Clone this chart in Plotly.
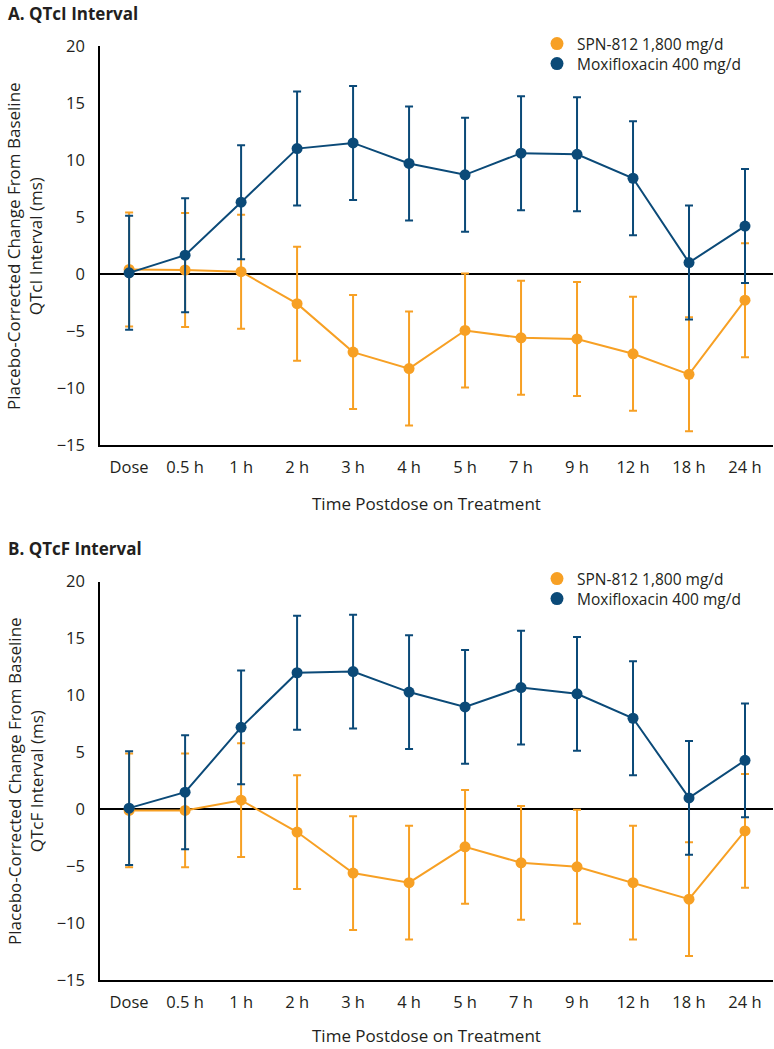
import plotly.graph_objects as go

categories = ["Dose", "0.5 h", "1 h", "2 h", "3 h", "4 h", "5 h", "7 h", "9 h", "12 h", "18 h", "24 h"]

# Panel A: QTcI
spn_qtci = [0.4, 0.35, 0.2, -2.6, -6.85, -8.3, -4.95, -5.6, -5.7, -7.0, -8.8, -2.3]
spn_qtci_err = [5, 5, 5, 5, 5, 5, 5, 5, 5, 5, 5, 5]
moxi_qtci = [0.1, 1.65, 6.3, 11.0, 11.5, 9.7, 8.7, 10.6, 10.5, 8.4, 1.0, 4.2]
moxi_qtci_err = [5, 5, 5, 5, 5, 5, 5, 5, 5, 5, 5, 5]

# Panel B: QTcF
spn_qtcf = [-0.1, -0.1, 0.8, -2.0, -5.6, -6.45, -3.3, -4.7, -5.05, -6.45, -7.9, -1.9]
spn_qtcf_err = [5, 5, 5, 5, 5, 5, 5, 5, 5, 5, 5, 5]
moxi_qtcf = [0.1, 1.5, 7.2, 12.0, 12.1, 10.3, 9.0, 10.7, 10.15, 8.0, 1.0, 4.3]
moxi_qtcf_err = [5, 5, 5, 5, 5, 5, 5, 5, 5, 5, 5, 5]

series_names = ["SPN-812 1,800 mg/d", "Moxifloxacin 400 mg/d"]
ORANGE = "#F7A024"
BLUE = "#0B4A78"
TEXT = "#231F20"
FONT = "Open Sans"

fig = go.Figure()

def add_series(y, err, color, xa, ya):
    fig.add_trace(go.Scatter(
        x=categories, y=y, mode="lines+markers",
        line=dict(color=color, width=2),
        marker=dict(color=color, size=11),
        error_y=dict(type="data", array=err, visible=True, color=color, thickness=2, width=4),
        xaxis=xa, yaxis=ya, showlegend=False,
    ))

add_series(spn_qtci, spn_qtci_err, ORANGE, "x", "y")
add_series(moxi_qtci, moxi_qtci_err, BLUE, "x", "y")
add_series(spn_qtcf, spn_qtcf_err, ORANGE, "x2", "y2")
add_series(moxi_qtcf, moxi_qtcf_err, BLUE, "x2", "y2")

# legend-only entries (markers only), one legend box per row for precise spacing
legend_ids = ["legend", "legend2", "legend3", "legend4"]
legend_axes = [("x", "y"), ("x", "y"), ("x2", "y2"), ("x2", "y2")]
legend_names = series_names + series_names
legend_colors = [ORANGE, BLUE, ORANGE, BLUE]
for lid, (xa, ya), name, color in zip(legend_ids, legend_axes, legend_names, legend_colors):
    fig.add_trace(go.Scatter(x=[None], y=[None], mode="markers", name=name,
                             marker=dict(color=color, size=13), legend=lid,
                             xaxis=xa, yaxis=ya))

W, H = 774, 1049
left_px, right_px = 100, 773
top_px, bot_px = 46, 980
plot_w = right_px - left_px
plot_h = bot_px - top_px
def py(p):
    return (bot_px - p) / plot_h
def px(p):
    return (p - left_px) / plot_w

xcommon = dict(type="category", range=[-0.52, 11.5], showline=True, linecolor="black", linewidth=1.5,
               ticks="", showgrid=False, zeroline=False, tickfont=dict(size=16.5, color=TEXT, family=FONT),
               ticklabelstandoff=6)
ycommon = dict(range=[-15, 20], dtick=5, showline=True, linecolor="black", linewidth=1.5, ticks="",
               showgrid=False, zeroline=True, zerolinecolor="black", zerolinewidth=2,
               tickfont=dict(size=16.5, color=TEXT, family=FONT), ticklabelstandoff=10)

legcommon = dict(x=px(537), xanchor="left", yanchor="top", itemwidth=30,
                 font=dict(size=15.5, family=FONT, color=TEXT), bgcolor="rgba(0,0,0,0)")

fig.update_layout(
    width=W, height=H,
    margin=dict(l=left_px, r=W - right_px, t=top_px, b=H - bot_px),
    paper_bgcolor="white", plot_bgcolor="white",
    font=dict(family=FONT, size=16, color=TEXT),
    xaxis=dict(**xcommon, anchor="y", domain=[0, 1]),
    yaxis=dict(**ycommon, anchor="x", domain=[py(445), 1]),
    xaxis2=dict(**xcommon, anchor="y2", domain=[0, 1]),
    yaxis2=dict(**ycommon, anchor="x2", domain=[0, py(581.7)]),
    legend=dict(**legcommon, y=py(27)),
    legend2=dict(**legcommon, y=py(47)),
    legend3=dict(**legcommon, y=py(562)),
    legend4=dict(**legcommon, y=py(582)),
)

ann = []
ann.append(dict(text="<b>A. QTcI Interval</b>", x=px(6), y=py(14), xref="paper", yref="paper",
                xanchor="left", yanchor="middle", showarrow=False, font=dict(size=17)))
ann.append(dict(text="<b>B. QTcF Interval</b>", x=px(6), y=py(548), xref="paper", yref="paper",
                xanchor="left", yanchor="middle", showarrow=False, font=dict(size=17)))
ann.append(dict(text="Placebo-Corrected Change From Baseline<br>QTcI Interval (ms)", textangle=-90,
                x=px(25), y=py(246), xref="paper", yref="paper", xanchor="center", yanchor="middle",
                showarrow=False, font=dict(size=17)))
ann.append(dict(text="Placebo-Corrected Change From Baseline<br>QTcF Interval (ms)", textangle=-90,
                x=px(25), y=py(781), xref="paper", yref="paper", xanchor="center", yanchor="middle",
                showarrow=False, font=dict(size=17)))
ann.append(dict(text="Time Postdose on Treatment", x=px(426.5), y=py(503), xref="paper", yref="paper",
                xanchor="center", yanchor="middle", showarrow=False, font=dict(size=17)))
ann.append(dict(text="Time Postdose on Treatment", x=px(426.5), y=py(1035), xref="paper", yref="paper",
                xanchor="center", yanchor="middle", showarrow=False, font=dict(size=17)))
fig.update_layout(annotations=ann)

fig.write_html("out.html", config={"displayModeBar": False},
               post_script="document.body.style.margin='0';")
